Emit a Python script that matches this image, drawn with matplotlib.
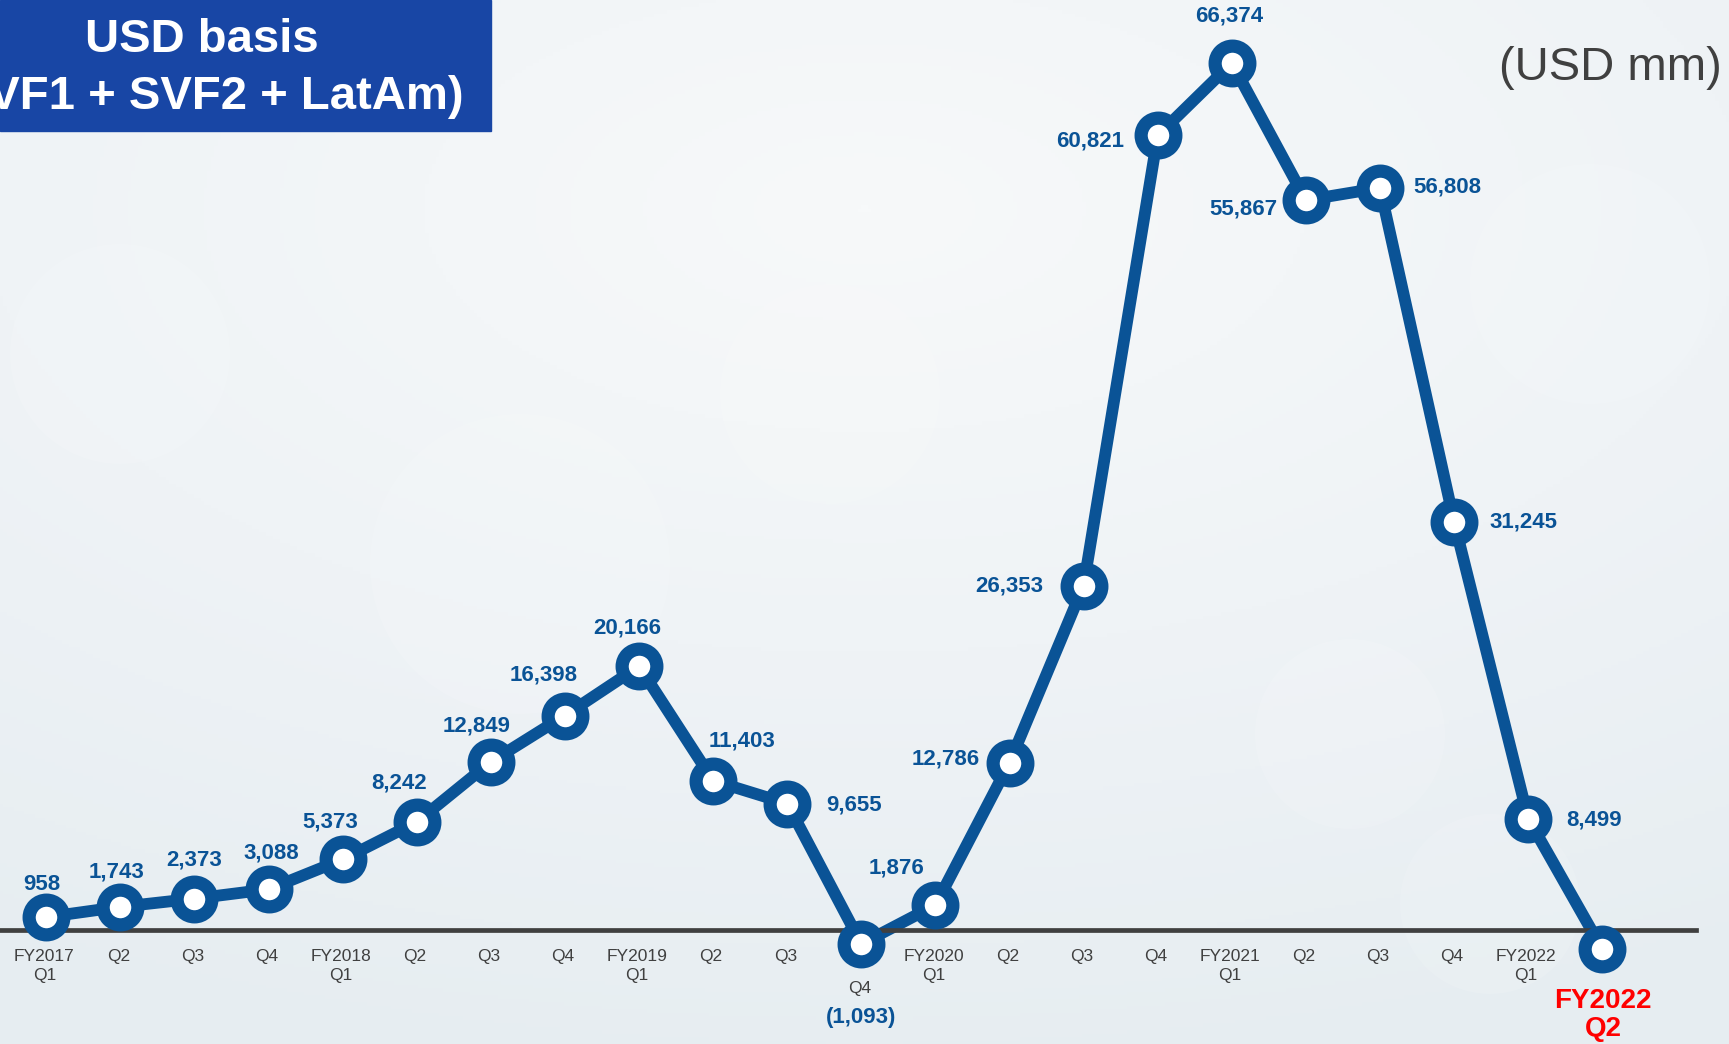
import numpy as np
import matplotlib.pyplot as plt
from matplotlib.patches import Rectangle, Ellipse
from matplotlib.colors import LinearSegmentedColormap

plt.rcParams['font.family'] = ['Liberation Sans', 'DejaVu Sans']

# cumulative investment gain, USD mm
tick_labels = ["FY2017\nQ1", "Q2", "Q3", "Q4",
               "FY2018\nQ1", "Q2", "Q3", "Q4",
               "FY2019\nQ1", "Q2", "Q3", "Q4",
               "FY2020\nQ1", "Q2", "Q3", "Q4",
               "FY2021\nQ1", "Q2", "Q3", "Q4",
               "FY2022\nQ1", "FY2022\nQ2"]
values = [958, 1743, 2373, 3088, 5373, 8242, 12849, 16398, 20166, 11403,
          9655, -1093, 1876, 12786, 26353, 60821, 66374, 55867, 56808,
          31245, 8499, -1500]
labelled = [True] * 21 + [False]

# where each value label sits relative to its point (pixels)
label_offsets = [(-4, 33), (-4, 35), (0, 39), (3, 36), (-12, 37), (-18, 39),
                 (-14, 36), (-21, 41), (-12, 38), (29, 40), (67, -1),
                 (0, -74), (-39, 37), (-64, 4), (-74, 0), (-68, -6),
                 (-3, 47), (-63, -9), (67, 1), (69, 0), (66, -1), (0, 0)]

BLUE = "#0A5396"
GREY = "#404040"


def fmt(v):
    s = f"{abs(v):,}"
    return f"({s})" if v < 0 else s


fig = plt.figure(figsize=(17.29, 10.44), dpi=100)

# soft background
bg = fig.add_axes([0, 0, 1, 1], zorder=0)
yy, xx = np.mgrid[0:1:300j, 0:1:500j]
r = np.sqrt(((xx - 0.5) / 1.2) ** 2 + ((yy - 0.2) / 1.0) ** 2)
cmap = LinearSegmentedColormap.from_list("bg", ["#F7F9FA", "#EFF3F6", "#E6EDF1"])
bg.imshow(r, cmap=cmap, extent=[0, 1729, 0, 1044], origin="upper",
          aspect="auto", vmin=0, vmax=0.85)
for cx, cy, rad in [(120, 690, 110), (520, 480, 150), (830, 650, 110),
                    (1590, 760, 120), (1350, 310, 95), (1490, 140, 90)]:
    bg.add_patch(Ellipse((cx, cy), 2 * rad, 2 * rad, color="white",
                         alpha=0.12, lw=0))
bg.set_xlim(0, 1729)
bg.set_ylim(0, 1044)
bg.axis("off")

ax = fig.add_axes([0, 0, 1, 1], zorder=1)
ax.patch.set_alpha(0)
x = np.arange(len(values))

ax.axhline(0, xmin=0, xmax=0.981, color=GREY, lw=3.4, zorder=3)
ax.plot(x, values, color=BLUE, lw=8.5, zorder=2, solid_capstyle="round")
ax.plot(x, values, "o", ms=25, mfc="white", mec=BLUE, mew=9.5, zorder=4)

for i, (v, show, off) in enumerate(zip(values, labelled, label_offsets)):
    if show:
        ax.annotate(fmt(v), (i, v), xytext=off, textcoords="offset pixels",
                    ha="center", va="center", fontsize=16, fontweight="bold",
                    color=BLUE, zorder=5)

for i, lab in enumerate(tick_labels):
    if i == len(tick_labels) - 1:
        ax.annotate(lab, (i, 0), xytext=(1, -58), textcoords="offset pixels",
                    ha="center", va="top", fontsize=20, fontweight="bold",
                    color="#FF0000", linespacing=1.1)
    else:
        dy = -51 if i == 11 else -19
        ax.annotate(lab, (i, 0), xytext=(-2, dy), textcoords="offset pixels",
                    ha="center", va="top", fontsize=12.5, color=GREY,
                    linespacing=1.4)

ax.set_xlim(-0.625, 22.71)
ax.set_ylim(-8762, 71199)
ax.axis("off")

# title box
fig.patches.append(Rectangle((0, 1 - 131 / 1044), 491 / 1729, 131 / 1044,
                             transform=fig.transFigure, color="#1846A5",
                             zorder=6))
fig.text(202 / 1729, 1 - 40 / 1044, "USD basis", ha="center", va="center",
         fontsize=34, fontweight="bold", color="white", zorder=7)
fig.text(202 / 1729, 1 - 97 / 1044, "(SVF1 + SVF2 + LatAm)", ha="center",
         va="center", fontsize=34, fontweight="bold", color="white", zorder=7)
fig.text(1722 / 1729, 1 - 68 / 1044, "(USD mm)", ha="right", va="center",
         fontsize=34, color=GREY, zorder=7)

fig.savefig("out.png", dpi=100)
